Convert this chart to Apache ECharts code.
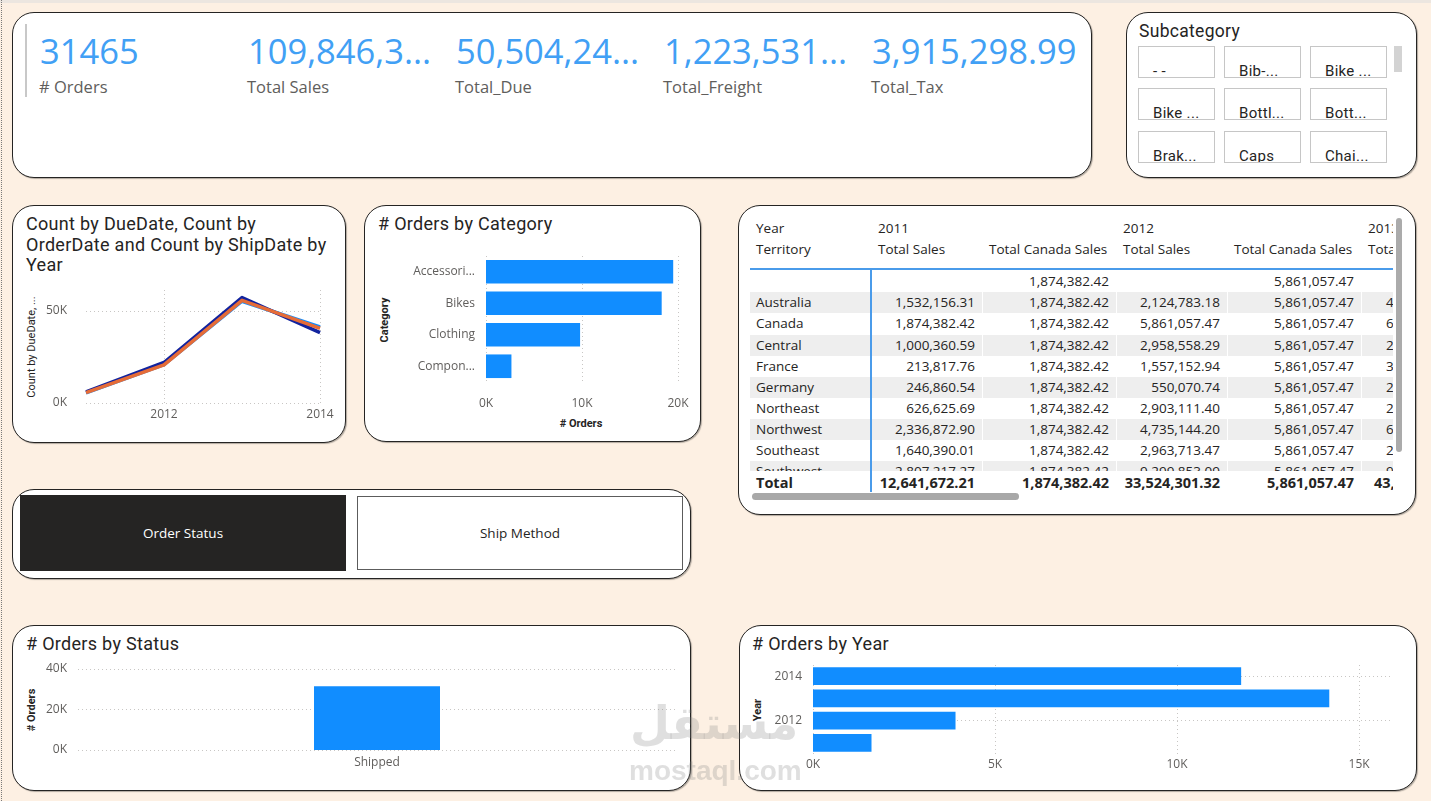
<!DOCTYPE html>
<html>
<head>
<meta charset="utf-8">
<title>Orders dashboard</title>
<script src="https://cdn.jsdelivr.net/npm/echarts@6/dist/echarts.min.js"></script>
<style>
  html, body { margin: 0; padding: 0; overflow: hidden; }
  #page { position: relative; width: 1431px; height: 801px; background: #FDF0E3; font-family: "Open Sans", sans-serif; color: #252423; overflow: hidden; }
  .card { position: absolute; box-sizing: border-box; background: #fff; border: 1px solid #252423; border-radius: 22px; box-shadow: 1px 1px 1px rgba(0,0,0,.3); }
  .title { position: absolute; font-family: Roboto, sans-serif; font-weight: 400; font-size: 18px; line-height: 20.5px; letter-spacing: .3px; color: #252423; white-space: nowrap; }
  .kpi-val { position: absolute; font-size: 34.5px; line-height: 1; color: #41A0F5; white-space: nowrap; }
  .kpi-lab { position: absolute; font-size: 16.5px; line-height: 1; color: #605E5C; white-space: nowrap; }
  .tile { position: absolute; box-sizing: border-box; width: 77px; height: 32px; border: 1px solid #C6C6C6; font-family: Roboto, sans-serif; font-weight: 400; font-size: 15px; line-height: 15px; padding: 17px 0 0 14px; white-space: nowrap; overflow: hidden; color: #252423; letter-spacing: .3px; }
  .axname { position: absolute; font-family: Roboto, sans-serif; font-size: 11px; font-weight: bold; color: #252423; white-space: nowrap; transform: translate(-50%, -50%); }
  .axname.rot { transform: translate(-50%, -50%) rotate(-90deg); }
  .cell { position: absolute; box-sizing: border-box; height: 21px; line-height: 21px; font-size: 13.5px; white-space: nowrap; overflow: hidden; color: #252423; }
  .btn { position: absolute; box-sizing: border-box; display: flex; align-items: center; justify-content: center; font-size: 13.5px; }
  #chart { position: absolute; left: 0; top: 0; width: 1431px; height: 801px; }
  .wm { position: absolute; color: rgba(128,128,128,.25); font-weight: bold; white-space: nowrap; pointer-events: none; }
</style>
</head>
<body>
<div id="page">
  <div style="position:absolute;left:0;top:0;width:1431px;height:3px;background:#ECE6E0"></div>
  <div style="position:absolute;left:1px;top:0;height:801px;border-left:1px dotted #7a7a7a"></div>

  <!-- cards -->
  <div class="card" style="left:12px;top:12px;width:1080px;height:166px"></div>
  <div class="card" style="left:1126px;top:12px;width:291px;height:166px"></div>
  <div class="card" style="left:12px;top:205px;width:334px;height:238px"></div>
  <div class="card" style="left:364px;top:205px;width:337px;height:237px"></div>
  <div class="card" style="left:738px;top:205px;width:678px;height:310px"></div>
  <div class="card" style="left:12px;top:489px;width:679px;height:90px"></div>
  <div class="card" style="left:12px;top:625px;width:679px;height:166px"></div>
  <div class="card" style="left:739px;top:625px;width:678px;height:166px"></div>

  <div id="kpis"></div>
  <div style="position:absolute;left:25px;top:24px;width:2px;height:73px;background:#C8C8C8"></div>

  <div class="title" style="left:1139px;top:21px;font-size:17.5px">Subcategory</div>
  <div id="tiles"></div>
  <div style="position:absolute;left:1394px;top:46px;width:8px;height:26px;background:#D3D3D3"></div>

  <div class="title" style="left:26px;top:214px">Count by DueDate, Count by<br>OrderDate and Count by ShipDate by<br>Year</div>
  <div class="title" style="left:378px;top:214px"># Orders by Category</div>
  <div class="title" style="left:26px;top:634px"># Orders by Status</div>
  <div class="title" style="left:752px;top:634px"># Orders by Year</div>

  <div class="axname rot" style="left:31px;top:347px;font-weight:400">Count by DueDate, ...</div>
  <div class="axname rot" style="left:384px;top:320px">Category</div>
  <div class="axname" style="left:581px;top:423px"># Orders</div>
  <div class="axname rot" style="left:31px;top:710px"># Orders</div>
  <div class="axname rot" style="left:757px;top:710px">Year</div>

  <div class="btn" style="left:20px;top:495px;width:326px;height:76px;background:#252423;color:#fff">Order Status</div>
  <div class="btn" style="left:357px;top:496px;width:326px;height:74px;background:#fff;border:1px solid #5c5c5c;color:#252423">Ship Method</div>

  <div id="table" style="position:absolute;left:750px;top:215px;width:643px;height:280px;overflow:hidden"></div>
  <div style="position:absolute;left:1396px;top:218px;width:6px;height:234px;border-radius:3px;background:#ABABAB"></div>
  <div style="position:absolute;left:752px;top:493px;width:267px;height:7px;border-radius:4px;background:#A8A8A8"></div>

  <div id="chart"></div>

  <div class="wm" style="left:630px;top:700px;font-family:'DejaVu Sans';font-size:46px;line-height:1">مستقل</div>
  <div class="wm" style="left:629px;top:757px;font-family:'Liberation Sans';font-size:28px;line-height:1">mostaql.com</div>
</div>

<script>
// KPI cards
const kpiValues = ['31465', '109,846,3...', '50,504,24...', '1,223,531...', '3,915,298.99'];
const kpiLabels = ['# Orders', 'Total Sales', 'Total_Due', 'Total_Freight', 'Total_Tax'];

// subcategory slicer tiles (as shown, truncated)
const subcategoryTiles = ['- -', 'Bib-...', 'Bike ...', 'Bike ...', 'Bottl...', 'Bott...', 'Brak...', 'Caps', 'Chai...'];

// line chart
const years = ['2011', '2012', '2013', '2014'];
const countByDueDate = [5500, 20900, 55300, 41300];
const countByOrderDate = [6000, 22000, 57300, 38200];
const countByShipDate = [5600, 20700, 55800, 40500];

// orders by category
const categories = ['Accessories', 'Bikes', 'Clothing', 'Components'];
const categoryTickLabels = ['Accessori...', 'Bikes', 'Clothing', 'Compon...'];
const ordersByCategory = [19500, 18300, 9800, 2650];

// orders by status
const statuses = ['Shipped'];
const ordersByStatus = [31465];

// orders by year
const ordersByYear = [1607, 3915, 14182, 11761];

// matrix
const tableYears = ['2011', '2012', '2013'];
const tableMeasures = ['Total Sales', 'Total Canada Sales', 'Total Sales', 'Total Canada Sales', 'Tota'];
const territories = ['', 'Australia', 'Canada', 'Central', 'France', 'Germany', 'Northeast', 'Northwest', 'Southeast', 'Southwest'];
const sales2011 = ['', '1,532,156.31', '1,874,382.42', '1,000,360.59', '213,817.76', '246,860.54', '626,625.69', '2,336,872.90', '1,640,390.01', '2,807,217.27'];
const canada2011 = ['1,874,382.42', '1,874,382.42', '1,874,382.42', '1,874,382.42', '1,874,382.42', '1,874,382.42', '1,874,382.42', '1,874,382.42', '1,874,382.42', '1,874,382.42'];
const sales2012 = ['', '2,124,783.18', '5,861,057.47', '2,958,558.29', '1,557,152.94', '550,070.74', '2,903,111.40', '4,735,144.20', '2,963,713.47', '9,299,853.09'];
const canada2012 = ['5,861,057.47', '5,861,057.47', '5,861,057.47', '5,861,057.47', '5,861,057.47', '5,861,057.47', '5,861,057.47', '5,861,057.47', '5,861,057.47', '5,861,057.47'];
const sales2013Visible = ['', '4,', '6,', '2,', '3,', '2,', '2,', '6,', '2,', '9,'];
const totalsRow = ['Total', '12,641,672.21', '1,874,382.42', '33,524,301.32', '5,861,057.47', '43,6'];


// ---- KPIs
var kpiHtml = '';
kpiValues.forEach(function(v, i) {
  let x = 40 + i * 208;
  kpiHtml += '<div class="kpi-val" style="left:' + x + 'px;top:34.4px">' + v + '</div>';
  kpiHtml += '<div class="kpi-lab" style="left:' + (x - 1) + 'px;top:78.6px">' + kpiLabels[i] + '</div>';
});
document.getElementById('kpis').innerHTML = kpiHtml;

// ---- slicer tiles
var tileX = [1138, 1224, 1310], tileY = [46, 88, 131];
var tilesHtml = '';
subcategoryTiles.forEach(function(t, i) {
  tilesHtml += '<div class="tile" style="left:' + tileX[i % 3] + 'px;top:' + tileY[Math.floor(i / 3)] + 'px">' + t + '</div>';
});
document.getElementById('tiles').innerHTML = tilesHtml;

// ---- matrix (coords relative to #table at 750,215)
var colX = [0, 121, 232, 366, 477, 611];
var colW = [121, 111, 134, 111, 134, 111];
function cell(txt, c, top, opts) {
  opts = opts || {};
  let st = 'left:' + colX[c] + 'px;top:' + top + 'px;width:' + colW[c] + 'px;';
  if (opts.align === 'right') st += 'text-align:right;padding-right:7px;';
  else st += 'text-align:left;padding-left:' + (opts.pad || 6) + 'px;';
  if (opts.bold) st += 'font-weight:bold;font-size:14.5px;';
  if (opts.bg) st += 'background:' + opts.bg + ';';
  if (c > 0) st += 'border-left:1px solid #fff;';
  return '<div class="cell" style="' + st + '">' + txt + '</div>';
}
var th = '';
// header rows
th += cell('Year', 0, 2.5) + cell(tableYears[0], 1, 2.5) + cell(tableYears[1], 3, 2.5) + cell(tableYears[2], 5, 2.5);
th += cell('Territory', 0, 23.5);
tableMeasures.forEach(function(m, i) { th += cell(m, i + 1, 23.5); });
th += '<div style="position:absolute;left:0;top:53px;width:643px;height:2px;background:#4A9BEA"></div>';
// body
var body = '<div style="position:absolute;left:0;top:55px;width:643px;height:200.7px;overflow:hidden">';
territories.forEach(function(t, i) {
  let top = 1.2 + 21.1 * i;
  let bg = (i % 2 === 1) ? '#EEEEEE' : '#fff';
  body += cell(t, 0, top, {bg: bg});
  body += cell(sales2011[i], 1, top, {align: 'right', bg: bg});
  body += cell(canada2011[i], 2, top, {align: 'right', bg: bg});
  body += cell(sales2012[i], 3, top, {align: 'right', bg: bg});
  body += cell(canada2012[i], 4, top, {align: 'right', bg: bg});
  body += cell(sales2013Visible[i], 5, top, {pad: 24, bg: bg});
});
body += '</div>';
th += body;
// total row
var totTop = 257.2;
totalsRow.forEach(function(v, c) {
  if (c === 0) th += cell(v, 0, totTop, {bold: true});
  else if (c === 5) th += cell(v, 5, totTop, {bold: true, pad: 12});
  else th += cell(v, c, totTop, {bold: true, align: 'right'});
});
th += '<div style="position:absolute;left:120px;top:55px;width:1.5px;height:222px;background:#4A9BEA"></div>';
document.getElementById('table').innerHTML = th;


// ---- charts
var labelStyle = { color: '#605E5C', fontFamily: 'Open Sans', fontSize: 12 };
var dotted = { color: '#C8C6C4', type: [1, 3], width: 1 };
var kFmt = function(v) { return v % 5000 === 0 ? (v / 1000) + 'K' : ''; };
var oddOnly = function(i) { return i % 2 === 1; };

var myChart = echarts.init(document.getElementById('chart'));
var option = {
  animation: false,
  grid: [
    { left: 86, top: 290, width: 234, height: 113 },
    { left: 486, top: 256, width: 192, height: 126 },
    { left: 78, top: 669, width: 598, height: 81 },
    { left: 813, top: 665, width: 577, height: 89 }
  ],
  xAxis: [
    { gridIndex: 0, type: 'category', data: years, boundaryGap: false,
      axisLine: { show: false }, axisTick: { show: false },
      axisLabel: Object.assign({ margin: 6, interval: oddOnly }, labelStyle),
      splitLine: { show: true, interval: oddOnly, lineStyle: dotted } },
    { gridIndex: 1, type: 'value', min: 0, max: 20000, interval: 10000,
      axisLabel: Object.assign({ margin: 16, formatter: kFmt }, labelStyle),
      splitLine: { show: true, lineStyle: dotted } },
    { gridIndex: 2, type: 'category', data: statuses,
      axisLine: { show: false }, axisTick: { show: false },
      axisLabel: Object.assign({ margin: 7 }, labelStyle),
      splitLine: { show: false } },
    { gridIndex: 3, type: 'value', min: 0, max: 15850, interval: 5000,
      axisLabel: Object.assign({ margin: 5, formatter: kFmt }, labelStyle),
      splitLine: { show: true, showMaxLine: false, lineStyle: dotted } }
  ],
  yAxis: [
    { gridIndex: 0, type: 'value', min: 0, max: 61400, interval: 50000,
      axisLabel: Object.assign({ margin: 19, formatter: kFmt }, labelStyle),
      splitLine: { show: true, showMaxLine: false, lineStyle: dotted } },
    { gridIndex: 1, type: 'category', data: categories, inverse: true,
      axisLine: { show: false }, axisTick: { show: false },
      axisLabel: Object.assign({ margin: 11, formatter: function(v, i) { return categoryTickLabels[i]; } }, labelStyle),
      splitLine: { show: false } },
    { gridIndex: 2, type: 'value', min: 0, max: 40000, interval: 20000,
      axisLabel: Object.assign({ margin: 11, formatter: kFmt }, labelStyle),
      splitLine: { show: true, lineStyle: dotted } },
    { gridIndex: 3, type: 'category', data: years,
      axisLine: { show: false }, axisTick: { show: false },
      axisLabel: Object.assign({ margin: 11, interval: oddOnly }, labelStyle),
      splitLine: { show: true, interval: oddOnly, alignWithLabel: true, lineStyle: dotted } }
  ],
  series: [
    { name: 'Count by DueDate', type: 'line', xAxisIndex: 0, yAxisIndex: 0, data: countByDueDate,
      symbol: 'none', lineStyle: { color: '#118DFF', width: 3.5, join: 'round' } },
    { name: 'Count by OrderDate', type: 'line', xAxisIndex: 0, yAxisIndex: 0, data: countByOrderDate,
      symbol: 'none', lineStyle: { color: '#12239E', width: 3.5, join: 'round' } },
    { name: 'Count by ShipDate', type: 'line', xAxisIndex: 0, yAxisIndex: 0, data: countByShipDate,
      symbol: 'none', lineStyle: { color: '#E66C37', width: 3.5, join: 'round' } },
    { name: '# Orders', type: 'bar', xAxisIndex: 1, yAxisIndex: 1, data: ordersByCategory,
      barCategoryGap: '25%', itemStyle: { color: '#118DFF' } },
    { name: '# Orders', type: 'bar', xAxisIndex: 2, yAxisIndex: 2, data: ordersByStatus,
      barWidth: 126, itemStyle: { color: '#118DFF' } },
    { name: '# Orders', type: 'bar', xAxisIndex: 3, yAxisIndex: 3, data: ordersByYear,
      barCategoryGap: '21%', itemStyle: { color: '#118DFF' } }
  ]
};
myChart.setOption(option);
</script>
</body>
</html>
